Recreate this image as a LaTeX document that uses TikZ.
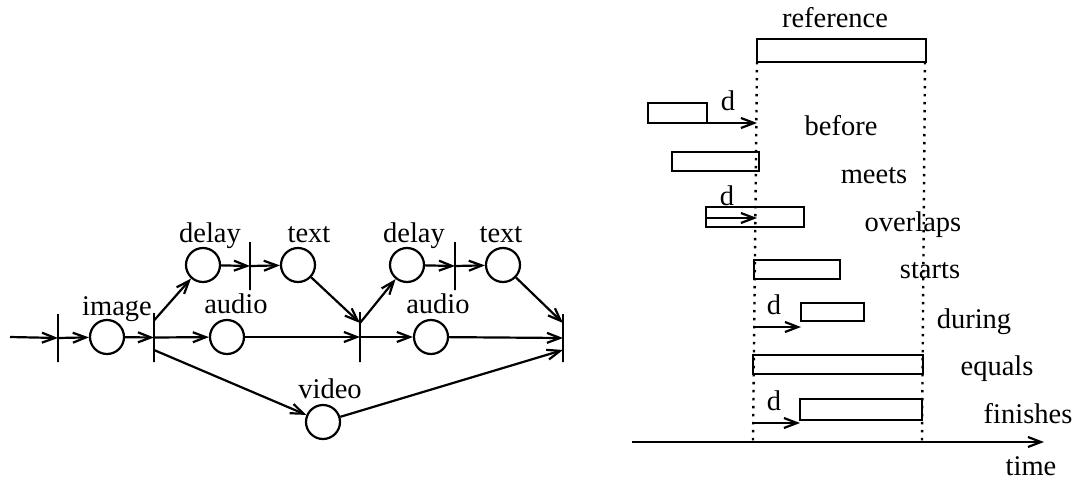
\documentclass[tikz,border=0pt]{standalone}
\usepackage{fontspec}
\setmainfont{Liberation Serif}
\usetikzlibrary{arrows.meta}
\begin{document}
\begin{tikzpicture}[x=1pt,y=-1pt,
  line width=2.2pt,
  lbl/.style={font=\fontsize{28.5}{30}\selectfont, anchor=base, inner sep=0pt},
  place/.style={circle, draw, minimum size=34pt, inner sep=0pt},
  trans/.style={draw, rectangle, minimum width=0pt, inner sep=0pt, minimum height=#1},
  arc/.style={-{Straight Barb[length=13pt,width=10pt]}},
  interval/.style={draw, line width=2.2pt},
  guide/.style={line width=2.4pt, dash pattern=on 2.4pt off 5.6pt}]
\useasboundingbox (0,0) rectangle (1077,482);

% ---------- Petri net of the presentation ----------
\coordinate (in) at (10,337);
\node[trans=48pt] (t1) at (58,338) {};
\node[place] (img) at (107,337) {};
\node[trans=49pt] (t2) at (154,337.5) {};
\node[place] (del1) at (203,265) {};
\node[place] (aud1) at (227,337) {};
\node[place] (vid) at (323,422) {};
\node[trans=48pt] (t3) at (250,266) {};
\node[place] (txt1) at (298,265) {};
\node[trans=50pt] (t4) at (360,337) {};
\node[place] (del2) at (407,265) {};
\node[place] (aud2) at (431,337) {};
\node[trans=48pt] (t5) at (455,266) {};
\node[place] (txt2) at (503,265) {};
\node[trans=48pt] (t6) at (563,338) {};

\node[lbl] (limg) at (117,315) {image};
\node[lbl] (ldel1) at (210,242) {delay};
\node[lbl] (ltxt1) at (309,242) {text};
\node[lbl] (laud1) at (236,313) {audio};
\node[lbl] (lvid) at (330,398) {video};
\node[lbl] (ldel2) at (414,242) {delay};
\node[lbl] (ltxt2) at (501,242) {text};
\node[lbl] (laud2) at (438,313) {audio};

\draw[arc] (in) -- (t1.center);
\draw[arc] (t1.center) -- (img);
\draw[arc] (img) -- (t2.center);
\draw[arc] ([yshift=17pt]t2.center) -- (del1);
\draw[arc] (t2.center) -- (aud1);
\draw[arc] ([yshift=-12.5pt]t2.center) -- (vid);
\draw[arc] (del1) -- (t3.center);
\draw[arc] (t3.center) -- (txt1);
\draw[arc] (txt1) -- ([yshift=14pt]t4.center);
\draw[arc] (aud1) -- (t4.center);
\draw[arc] ([yshift=14pt]t4.center) -- (del2);
\draw[arc] (t4.center) -- (aud2);
\draw[arc] (del2) -- (t5.center);
\draw[arc] (t5.center) -- (txt2);
\draw[arc] (txt2) -- ([yshift=15pt]t6.center);
\draw[arc] (aud2) -- (t6.center);
\draw[arc] (vid) -- ([yshift=-12pt]t6.center);

% ---------- Temporal relations ----------
\draw[guide] (757,62) -- (753,442);
\draw[guide] (925,62) -- (922,442);

\node[lbl] (lref) at (835,27) {reference};
\draw[interval] (757,39) rectangle (926,62);

% before
\draw[interval] (648,103) rectangle (707,123);
\coordinate (bEnd) at (707,123);
\coordinate (bRef) at (757,123);
\draw[arc] (bEnd) -- (bRef);
\node[lbl] (dbef) at (728,110) {d};
\node[lbl] (lbef) at (841,135) {before};

% meets
\draw[interval] (672,152) rectangle (759,171);
\node[lbl] (lmeet) at (874,183) {meets};

% overlaps
\draw[interval] (706,207) rectangle (804,227);
\coordinate (oStart) at (706,218);
\coordinate (oRef) at (757,218);
\draw[arc] (oStart) -- (oRef);
\node[lbl] (dov) at (727,205) {d};
\node[lbl] (lov) at (913,231) {overlaps};

% starts
\draw[interval] (754,260) rectangle (840,279);
\node[lbl] (lsta) at (930,278) {starts};

% during
\draw[interval] (801,303) rectangle (864,321);
\coordinate (dRef) at (754,327);
\coordinate (dStart) at (801,327);
\draw[arc] (dRef) -- (dStart);
\node[lbl] (ddur) at (774,314) {d};
\node[lbl] (ldur) at (974,328) {during};

% equals
\draw[interval] (753,355) rectangle (923,374);
\node[lbl] (lequ) at (997,375) {equals};

% finishes
\draw[interval] (800,399) rectangle (922,420);
\coordinate (fRef) at (753,423);
\coordinate (fStart) at (800,423);
\draw[arc] (fRef) -- (fStart);
\node[lbl] (dfin) at (774,410) {d};
\node[lbl] (lfin) at (1028,423) {finishes};

% time axis
\coordinate (tA) at (632,442);
\coordinate (tB) at (1044,442);
\draw[arc] (tA) -- (tB);
\node[lbl] (ltime) at (1031,475) {time};
\end{tikzpicture}
\end{document}
